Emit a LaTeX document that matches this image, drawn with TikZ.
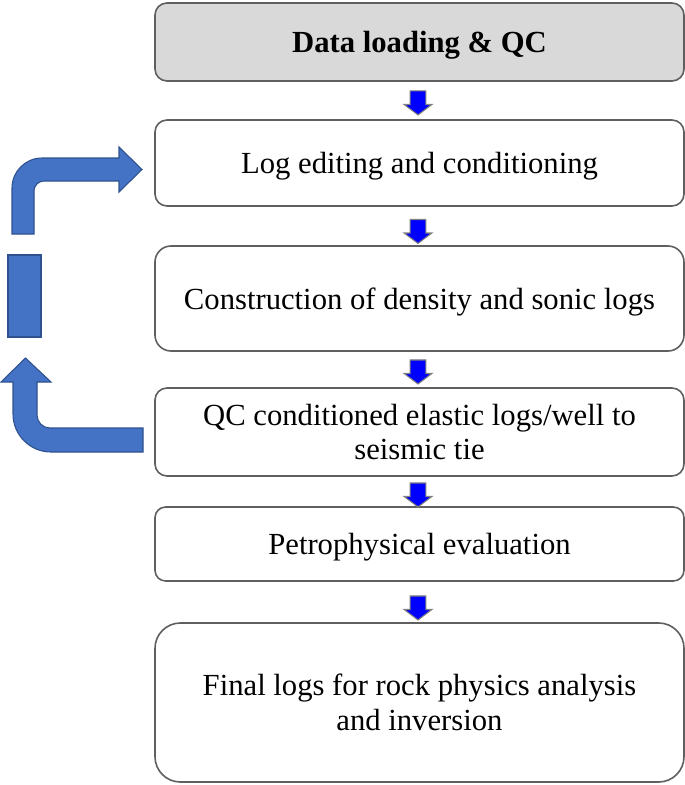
\documentclass[tikz,border=0pt]{standalone}
\usepackage{fontspec}
\setmainfont{Liberation Serif}
\usetikzlibrary{shapes.arrows}

\definecolor{boxline}{RGB}{95,95,95}
\definecolor{headfill}{RGB}{217,217,217}
\definecolor{loopfill}{RGB}{68,114,196}
\definecolor{loopline}{RGB}{47,82,143}

\tikzset{every picture/.style={line width=0.75pt}}
\tikzset{
  stepbox/.style={draw=boxline, line width=1.2pt, fill=white, rounded corners=9pt,
    minimum width=396.75pt, align=center, inner sep=2pt, text depth=0pt,
    font=\fontsize{23}{26}\selectfont},
  downarr/.style={single arrow, rotate=-90, fill=blue, draw=black!50, line width=0.8pt,
    minimum height=18pt, minimum width=20pt, inner sep=5.5pt,
    single arrow head extend=4.5pt, single arrow tip angle=106},
  loopshape/.style={fill=loopfill, draw=loopline, line width=0.8pt}
}

\begin{document}
\begin{tikzpicture}[x=0.75pt,y=0.75pt,yscale=-1,xscale=1]
\useasboundingbox (0,0) rectangle (685,785);

%Shape: Rounded Rectangles
\node[stepbox, fill=headfill, minimum height=58.5pt] (load) at (419.5,42) {\textbf{Data loading \& QC}};
\node[stepbox, minimum height=64.5pt] (edit) at (419.5,163) {Log editing and conditioning};
\node[stepbox, minimum height=78.75pt, rounded corners=12pt] (build) at (419.5,298.5) {Construction of density and sonic logs};
\node[stepbox, minimum height=66pt] (tie) at (419.5,432) {QC conditioned elastic logs/well to\\seismic tie};
\node[stepbox, minimum height=55.5pt, rounded corners=8pt] (petro) at (419.5,544) {Petrophysical evaluation};
\node[stepbox, minimum height=119.25pt, rounded corners=19pt] (final) at (419.5,702.5) {Final logs for rock physics analysis\\and inversion};

%Shape: Down Arrows
\node[downarr] (a1) at (418,100) {};
\node[downarr] (a2) at (418,228.5) {};
\node[downarr] (a3) at (418,369) {};
\node[downarr] (a4) at (418,492) {};
\node[downarr] (a5) at (418,605) {};

%Shape: Bent Arrow (back to log editing)
\draw[loopshape] (12,234) -- (12,188) arc[start angle=180, end angle=270, radius=30] -- (119,158) -- (119,147) -- (142,169.5) -- (119,192) -- (119,181) -- (44,181) arc[start angle=270, end angle=180, radius=10] -- (34,234) -- cycle ;
%Shape: Rectangle
\draw[loopshape] (8,255) rectangle (41,337) ;
%Shape: Bent Arrow (from well tie)
\draw[loopshape] (143,428) -- (50,428) arc[start angle=90, end angle=180, radius=13] -- (37,382) -- (51,382) -- (25.5,358) -- (1,382) -- (13,382) -- (13,414) arc[start angle=180, end angle=90, radius=38] -- (143,452) -- cycle ;

\end{tikzpicture}
\end{document}
